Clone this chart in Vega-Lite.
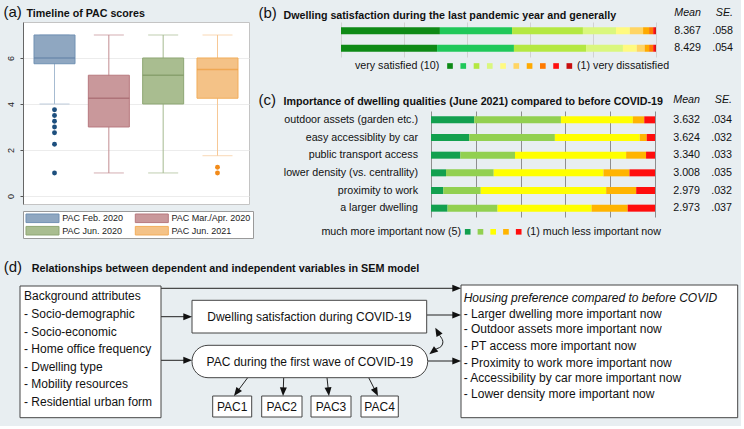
{
  "$schema": "https://vega.github.io/schema/vega-lite/v6.json",
  "background": "#e8eef1",
  "padding": {"left": 2, "top": 3, "right": 0, "bottom": 0},
  "config": {
    "font": "Liberation Sans",
    "view": {"stroke": null},
    "axis": {"labelColor": "#222", "titleColor": "#111"},
    "text": {"color": "#111"}
  },
  "datasets": {
    "pac": [
      {"wave": "PAC Feb. 2020", "lower": 4, "q1": 5.75, "median": 6, "q3": 7, "upper": 7},
      {"wave": "PAC Mar./Apr. 2020", "lower": 1, "q1": 3, "median": 4.25, "q3": 5.25, "upper": 7},
      {"wave": "PAC Jun. 2020", "lower": 1, "q1": 4, "median": 5.25, "q3": 6, "upper": 7},
      {"wave": "PAC Jun. 2021", "lower": 1.75, "q1": 4.25, "median": 5.5, "q3": 6, "upper": 7}
    ],
    "pacOut": [
      {"wave": "PAC Feb. 2020", "value": 3.75},
      {"wave": "PAC Feb. 2020", "value": 3.5},
      {"wave": "PAC Feb. 2020", "value": 3.25},
      {"wave": "PAC Feb. 2020", "value": 3},
      {"wave": "PAC Feb. 2020", "value": 2.75},
      {"wave": "PAC Feb. 2020", "value": 2.25},
      {"wave": "PAC Feb. 2020", "value": 1},
      {"wave": "PAC Jun. 2021", "value": 1.25},
      {"wave": "PAC Jun. 2021", "value": 1}
    ],
    "pacLegend": [
      {"wave": "PAC Feb. 2020", "col": "a", "row": "1"},
      {"wave": "PAC Mar./Apr. 2020", "col": "b", "row": "1"},
      {"wave": "PAC Jun. 2020", "col": "a", "row": "2"},
      {"wave": "PAC Jun. 2021", "col": "b", "row": "2"}
    ],
    "sat": [
      {"item": "last pandemic year", "level": 10, "pct": 31.4},
      {"item": "last pandemic year", "level": 9, "pct": 22.9},
      {"item": "last pandemic year", "level": 8, "pct": 22.5},
      {"item": "last pandemic year", "level": 7, "pct": 10.5},
      {"item": "last pandemic year", "level": 6, "pct": 4.4},
      {"item": "last pandemic year", "level": 5, "pct": 4.2},
      {"item": "last pandemic year", "level": 4, "pct": 1.9},
      {"item": "last pandemic year", "level": 3, "pct": 1.3},
      {"item": "last pandemic year", "level": 2, "pct": 0.6},
      {"item": "last pandemic year", "level": 1, "pct": 0.3},
      {"item": "generally", "level": 10, "pct": 30.5},
      {"item": "generally", "level": 9, "pct": 24.4},
      {"item": "generally", "level": 8, "pct": 22.9},
      {"item": "generally", "level": 7, "pct": 11.7},
      {"item": "generally", "level": 6, "pct": 4.4},
      {"item": "generally", "level": 5, "pct": 2.5},
      {"item": "generally", "level": 4, "pct": 1.4},
      {"item": "generally", "level": 3, "pct": 1.3},
      {"item": "generally", "level": 2, "pct": 0.6},
      {"item": "generally", "level": 1, "pct": 0.3}
    ],
    "satStats": [
      {"item": "last pandemic year", "stat": "Mean", "val": "8.367"},
      {"item": "last pandemic year", "stat": "SE.", "val": ".058"},
      {"item": "generally", "stat": "Mean", "val": "8.429"},
      {"item": "generally", "stat": "SE.", "val": ".054"}
    ],
    "satCapL": [{"level": 10, "t": "very satisfied (10)"}],
    "satCapR": [{"level": 1, "t": "(1) very dissatisfied"}],
    "imp": [
      {"item": "outdoor assets (garden etc.)", "level": 5, "pct": 19.3},
      {"item": "outdoor assets (garden etc.)", "level": 4, "pct": 38.7},
      {"item": "outdoor assets (garden etc.)", "level": 3, "pct": 32.1},
      {"item": "outdoor assets (garden etc.)", "level": 2, "pct": 5.1},
      {"item": "outdoor assets (garden etc.)", "level": 1, "pct": 4.8},
      {"item": "easy accessiblity by car", "level": 5, "pct": 17.1},
      {"item": "easy accessiblity by car", "level": 4, "pct": 38.2},
      {"item": "easy accessiblity by car", "level": 3, "pct": 37.9},
      {"item": "easy accessiblity by car", "level": 2, "pct": 3.1},
      {"item": "easy accessiblity by car", "level": 1, "pct": 3.7},
      {"item": "public transport access", "level": 5, "pct": 13.1},
      {"item": "public transport access", "level": 4, "pct": 24.4},
      {"item": "public transport access", "level": 3, "pct": 49.6},
      {"item": "public transport access", "level": 2, "pct": 8.9},
      {"item": "public transport access", "level": 1, "pct": 4.0},
      {"item": "lower density (vs. centrallity)", "level": 5, "pct": 6.7},
      {"item": "lower density (vs. centrallity)", "level": 4, "pct": 21.3},
      {"item": "lower density (vs. centrallity)", "level": 3, "pct": 49.0},
      {"item": "lower density (vs. centrallity)", "level": 2, "pct": 11.6},
      {"item": "lower density (vs. centrallity)", "level": 1, "pct": 11.4},
      {"item": "proximity to work", "level": 5, "pct": 5.5},
      {"item": "proximity to work", "level": 4, "pct": 16.7},
      {"item": "proximity to work", "level": 3, "pct": 56.0},
      {"item": "proximity to work", "level": 2, "pct": 13.4},
      {"item": "proximity to work", "level": 1, "pct": 8.4},
      {"item": "a larger dwelling", "level": 5, "pct": 7.4},
      {"item": "a larger dwelling", "level": 4, "pct": 22.3},
      {"item": "a larger dwelling", "level": 3, "pct": 42.0},
      {"item": "a larger dwelling", "level": 2, "pct": 16.1},
      {"item": "a larger dwelling", "level": 1, "pct": 12.2}
    ],
    "impStats": [
      {"item": "outdoor assets (garden etc.)", "stat": "Mean", "val": "3.632"},
      {"item": "outdoor assets (garden etc.)", "stat": "SE.", "val": ".034"},
      {"item": "easy accessiblity by car", "stat": "Mean", "val": "3.624"},
      {"item": "easy accessiblity by car", "stat": "SE.", "val": ".032"},
      {"item": "public transport access", "stat": "Mean", "val": "3.340"},
      {"item": "public transport access", "stat": "SE.", "val": ".033"},
      {"item": "lower density (vs. centrallity)", "stat": "Mean", "val": "3.008"},
      {"item": "lower density (vs. centrallity)", "stat": "SE.", "val": ".035"},
      {"item": "proximity to work", "stat": "Mean", "val": "2.979"},
      {"item": "proximity to work", "stat": "SE.", "val": ".032"},
      {"item": "a larger dwelling", "stat": "Mean", "val": "2.973"},
      {"item": "a larger dwelling", "stat": "SE.", "val": ".037"}
    ],
    "impCapL": [{"level": 5, "t": "much more important now (5)"}],
    "impCapR": [{"level": 1, "t": "(1) much less important now"}],
    "dRect": [
      {"x1": -3, "x2": 138, "y1": 30, "y2": 161.7},
      {"x1": 169, "x2": 403.7, "y1": 44.3, "y2": 77},
      {"x1": 189.7, "x2": 228.7, "y1": 140, "y2": 161},
      {"x1": 238.7, "x2": 279, "y1": 140, "y2": 161},
      {"x1": 288, "x2": 328, "y1": 140, "y2": 161},
      {"x1": 338, "x2": 375.3, "y1": 140, "y2": 161},
      {"x1": 438, "x2": 714.7, "y1": 29, "y2": 161.7}
    ],
    "dPill": [
      {"x1": 169, "x2": 404.7, "y1": 89.3, "y2": 121.7}
    ],
    "dLines": [
      {"x1": 138, "y1": 32.3, "x2": 434, "y2": 32.3},
      {"x1": 138, "y1": 60.7, "x2": 165, "y2": 60.7},
      {"x1": 138, "y1": 104.3, "x2": 165, "y2": 104.3},
      {"x1": 403.7, "y1": 59, "x2": 434, "y2": 59},
      {"x1": 404.7, "y1": 105, "x2": 434, "y2": 105},
      {"x1": 224.7, "y1": 121.7, "x2": 213.6, "y2": 136.5},
      {"x1": 260.7, "y1": 121.7, "x2": 260.2, "y2": 135.6},
      {"x1": 304, "y1": 121.7, "x2": 305.5, "y2": 135.7},
      {"x1": 345.7, "y1": 121.7, "x2": 353, "y2": 136.1}
    ],
    "dCurve": [
      {"seq": 1, "x": 416.6, "y": 79.3},
      {"seq": 2, "x": 419.3, "y": 83.5},
      {"seq": 3, "x": 419.8, "y": 87},
      {"seq": 4, "x": 417.8, "y": 90.8},
      {"seq": 5, "x": 413.1, "y": 92.9}
    ],
    "dHeads": [
      {"x": 433.7, "y": 32.3, "ang": 90},
      {"x": 164.7, "y": 60.7, "ang": 90},
      {"x": 164.7, "y": 104.3, "ang": 90},
      {"x": 433.7, "y": 59, "ang": 90},
      {"x": 433.7, "y": 105, "ang": 90},
      {"x": 213.6, "y": 136.5, "ang": 216.9},
      {"x": 260.2, "y": 135.65, "ang": 182.2},
      {"x": 305.5, "y": 135.7, "ang": 173.7},
      {"x": 353, "y": 136.1, "ang": 153},
      {"x": 414.4, "y": 75.5, "ang": -29.4},
      {"x": 409.7, "y": 95.6, "ang": 231.5}
    ],
    "dTextL": [
      {"x": 1, "y": 40, "t": "Background attributes"},
      {"x": 1, "y": 57.7, "t": "- Socio-demographic"},
      {"x": 1, "y": 75.7, "t": "- Socio-economic"},
      {"x": 1, "y": 93.3, "t": "- Home office frequency"},
      {"x": 1, "y": 111, "t": "- Dwelling type"},
      {"x": 1, "y": 128.3, "t": "- Mobility resources"},
      {"x": 1, "y": 145.7, "t": "- Residential urban form"},
      {"x": 440.7, "y": 57.7, "t": "- Larger dwelling more important now"},
      {"x": 440.7, "y": 73.3, "t": "- Outdoor assets more important now"},
      {"x": 440.7, "y": 90, "t": "- PT access more important now"},
      {"x": 440.7, "y": 106.7, "t": "- Proximity to work more important now"},
      {"x": 440.7, "y": 122.3, "t": "- Accessibility by car more important now"},
      {"x": 440.7, "y": 138.3, "t": "- Lower density more important now"}
    ],
    "dTextI": [
      {"x": 440.7, "y": 41.7, "t": "Housing preference compared to before COVID"}
    ],
    "dTextC": [
      {"x": 286.3, "y": 60.7, "t": "Dwelling satisfaction during COVID-19"},
      {"x": 286.8, "y": 105.5, "t": "PAC during the first wave of COVID-19"},
      {"x": 209.2, "y": 150.5, "t": "PAC1"},
      {"x": 258.8, "y": 150.5, "t": "PAC2"},
      {"x": 308, "y": 150.5, "t": "PAC3"},
      {"x": 356.6, "y": 150.5, "t": "PAC4"}
    ],
    "dTitle": [
      {"x": -19.3, "y": 16, "t": "(d)"}
    ],
    "dTitleB": [
      {"x": 8.7, "y": 16, "t": "Relationships between dependent and independent variables in SEM model"}
    ]
  },
  "spacing": 17,
  "resolve": {
    "scale": {"color": "independent", "fill": "independent", "stroke": "independent"},
    "legend": {"color": "independent", "fill": "independent", "stroke": "independent"}
  },
  "vconcat": [
    {
      "spacing": 4,
      "resolve": {
        "scale": {"color": "independent", "fill": "independent", "stroke": "independent"},
        "legend": {"color": "independent", "fill": "independent", "stroke": "independent"}
      },
      "hconcat": [
        {
          "spacing": 5,
          "resolve": {
            "scale": {"color": "independent", "fill": "independent", "stroke": "independent"},
            "legend": {"color": "independent", "fill": "independent", "stroke": "independent"}
          },
          "vconcat": [
            {
              "width": 226,
              "height": 182,
              "view": {"fill": "white", "stroke": "#c4c4c4"},
              "resolve": {"scale": {"color": "independent"}},
              "encoding": {
                "x": {
                  "field": "wave", "type": "nominal", "sort": null, "title": "Timeline of PAC scores",
                  "scale": {"domain": ["PAC Feb. 2020", "PAC Mar./Apr. 2020", "PAC Jun. 2020", "PAC Jun. 2021"], "paddingInner": 0.2, "paddingOuter": 0.18},
                  "axis": {"orient": "top", "labels": false, "ticks": false, "domain": false, "grid": false,
                    "titleFontWeight": "bold", "titleFontSize": 10.7, "titleX": 3, "titleY": -5.7,
                    "titleAlign": "left", "titleBaseline": "alphabetic"}
                }
              },
              "layer": [
                {
                  "data": {"name": "pac"},
                  "mark": {"type": "rule", "strokeWidth": 1},
                  "encoding": {
                    "y": {"field": "lower", "type": "quantitative", "title": "(a)",
                      "scale": {"domain": [-0.35, 7.565], "nice": false, "zero": false},
                      "axis": {"values": [0, 2, 4, 6], "grid": true, "gridColor": "#ececec",
                        "labelAngle": -90, "labelAlign": "center", "labelBaseline": "bottom",
                        "labelFontSize": 9, "labelPadding": 5, "tickSize": 3, "tickColor": "#555",
                        "domainColor": "#666",
                        "titleAngle": 0, "titleX": -20, "titleY": -5.8, "titleAlign": "left",
                        "titleBaseline": "alphabetic", "titleFontSize": 15, "titleFontWeight": "normal"}},
                    "y2": {"field": "upper"},
                    "color": {"field": "wave", "type": "nominal", "legend": null,
                      "scale": {"domain": ["PAC Feb. 2020", "PAC Mar./Apr. 2020", "PAC Jun. 2020", "PAC Jun. 2021"],
                        "range": ["#a6bbd1", "#c28c91", "#a5b98f", "#f7c895"]}}
                  }
                },
                {
                  "data": {"name": "pac"},
                  "mark": {"type": "tick", "size": 30, "thickness": 1},
                  "encoding": {
                    "y": {"field": "lower", "type": "quantitative", "title": "(a)"},
                    "color": {"field": "wave", "type": "nominal", "legend": null,
                      "scale": {"domain": ["PAC Feb. 2020", "PAC Mar./Apr. 2020", "PAC Jun. 2020", "PAC Jun. 2021"],
                        "range": ["#a6bbd1", "#c28c91", "#a5b98f", "#f7c895"]}}
                  }
                },
                {
                  "data": {"name": "pac"},
                  "mark": {"type": "tick", "size": 30, "thickness": 1},
                  "encoding": {
                    "y": {"field": "upper", "type": "quantitative", "title": "(a)"},
                    "color": {"field": "wave", "type": "nominal", "legend": null,
                      "scale": {"domain": ["PAC Feb. 2020", "PAC Mar./Apr. 2020", "PAC Jun. 2020", "PAC Jun. 2021"],
                        "range": ["#a6bbd1", "#c28c91", "#a5b98f", "#f7c895"]}}
                  }
                },
                {
                  "data": {"name": "pac"},
                  "mark": {"type": "bar", "size": 41, "strokeWidth": 1},
                  "encoding": {
                    "y": {"field": "q1", "type": "quantitative", "title": "(a)"},
                    "y2": {"field": "q3"},
                    "fill": {"field": "wave", "type": "nominal", "legend": null,
                      "scale": {"domain": ["PAC Feb. 2020", "PAC Mar./Apr. 2020", "PAC Jun. 2020", "PAC Jun. 2021"],
                        "range": ["#8fa7c1", "#c9989b", "#a9bd90", "#f4c287"]}},
                    "stroke": {"field": "wave", "type": "nominal", "legend": null,
                      "scale": {"domain": ["PAC Feb. 2020", "PAC Mar./Apr. 2020", "PAC Jun. 2020", "PAC Jun. 2021"],
                        "range": ["#7191b3", "#b7797f", "#8ea673", "#f2ad5b"]}}
                  }
                },
                {
                  "data": {"name": "pac"},
                  "mark": {"type": "tick", "size": 41, "thickness": 1.5},
                  "encoding": {
                    "y": {"field": "median", "type": "quantitative", "title": "(a)"},
                    "color": {"field": "wave", "type": "nominal", "legend": null,
                      "scale": {"domain": ["PAC Feb. 2020", "PAC Mar./Apr. 2020", "PAC Jun. 2020", "PAC Jun. 2021"],
                        "range": ["#5f80a6", "#a3646b", "#7c9660", "#ec9c3f"]}}
                  }
                },
                {
                  "data": {"name": "pacOut"},
                  "mark": {"type": "point", "filled": true, "size": 24, "opacity": 1},
                  "encoding": {
                    "y": {"field": "value", "type": "quantitative", "title": "(a)"},
                    "color": {"field": "wave", "type": "nominal", "legend": null,
                      "scale": {"domain": ["PAC Feb. 2020", "PAC Jun. 2021"], "range": ["#1d4f7e", "#f28b1a"]}}
                  }
                }
              ]
            },
            {
              "width": 230,
              "height": 27,
              "view": {"fill": "white", "stroke": "#9a9a9a"},
              "data": {"name": "pacLegend"},
              "encoding": {
                "x": {"field": "col", "type": "nominal", "bandPosition": 0, "axis": null,
                  "scale": {"type": "band", "domain": ["a", "b"], "paddingInner": 0, "paddingOuter": 0.052, "align": 0.263}},
                "y": {"field": "row", "type": "nominal", "axis": null,
                  "scale": {"type": "band", "domain": ["1", "2"], "paddingInner": 0, "paddingOuter": 0.089}}
              },
              "layer": [
                {
                  "mark": {"type": "point", "shape": "M0,-0.26H2V0.26H0Z", "size": 1089, "filled": true, "strokeWidth": 1, "opacity": 1},
                  "encoding": {
                    "fill": {"field": "wave", "type": "nominal", "legend": null,
                      "scale": {"domain": ["PAC Feb. 2020", "PAC Mar./Apr. 2020", "PAC Jun. 2020", "PAC Jun. 2021"],
                        "range": ["#8fa7c1", "#c9989b", "#a9bd90", "#f4c287"]}},
                    "stroke": {"field": "wave", "type": "nominal", "legend": null,
                      "scale": {"domain": ["PAC Feb. 2020", "PAC Mar./Apr. 2020", "PAC Jun. 2020", "PAC Jun. 2021"],
                        "range": ["#7191b3", "#b7797f", "#8ea673", "#f2ad5b"]}}
                  }
                },
                {
                  "mark": {"type": "text", "align": "left", "baseline": "middle", "fontSize": 9, "dx": 36.2, "color": "#222"},
                  "encoding": {"text": {"field": "wave"}}
                }
              ]
            }
          ]
        },
        {
          "spacing": 21,
          "resolve": {
            "scale": {"color": "independent", "fill": "independent", "stroke": "independent"},
            "legend": {"color": "independent", "fill": "independent", "stroke": "independent"}
          },
          "vconcat": [
            {
              "spacing": 3,
              "resolve": {"scale": {"color": "independent"}, "legend": {"color": "independent"}},
              "vconcat": [
                {
                  "spacing": 13,
                  "bounds": "flush",
                  "resolve": {"scale": {"color": "independent"}, "legend": {"color": "independent"}},
                  "hconcat": [
                    {
                      "width": 315,
                      "height": 35,
                      "data": {"name": "sat"},
                      "mark": {"type": "bar", "size": 7},
                      "encoding": {
                        "x": {"field": "pct", "type": "quantitative", "stack": "zero",
                          "title": "Dwelling satisfaction during the last pandemic year and generally",
                          "scale": {"domain": [0, 100], "nice": false},
                          "axis": {"orient": "top", "values": [0, 20, 40, 60, 80, 100], "grid": true, "gridColor": "#d2d2d2",
                            "labels": false, "ticks": false, "domain": false,
                            "titleFontWeight": "bold", "titleFontSize": 10.7, "titleX": -58, "titleY": -4,
                            "titleAlign": "left", "titleBaseline": "alphabetic"}},
                        "y": {"field": "item", "type": "nominal", "sort": ["last pandemic year", "generally"], "title": "(b)",
                          "axis": {"labels": false, "ticks": false, "domain": false, "grid": false,
                            "titleAngle": 0, "titleX": -83, "titleY": -4.5, "titleAlign": "left",
                            "titleBaseline": "alphabetic", "titleFontSize": 15, "titleFontWeight": "normal"}},
                        "color": {"field": "level", "type": "ordinal", "legend": null,
                          "scale": {"domain": [10, 9, 8, 7, 6, 5, 4, 3, 2, 1],
                            "range": ["#0e8a16", "#20c85a", "#b4e842", "#daf77e", "#fffa80", "#ffd564", "#ffaa00", "#ff7a00", "#ff1010", "#c80e0e"]}},
                        "order": {"field": "level", "type": "quantitative", "sort": "descending"}
                      }
                    },
                    {
                      "width": 64,
                      "height": 35,
                      "data": {"name": "satStats"},
                      "mark": {"type": "text", "align": "right", "baseline": "middle", "fontSize": 10.7},
                      "encoding": {
                        "x": {"field": "stat", "type": "nominal", "sort": ["Mean", "SE."], "bandPosition": 1, "title": null,
                          "scale": {"type": "band", "paddingInner": 0, "paddingOuter": 0},
                          "axis": {"orient": "top", "labelAngle": 0, "labelAlign": "right", "labelOffset": 16,
                            "ticks": false, "domain": false, "labelFontStyle": "italic", "labelPadding": 6.7,
                            "labelBaseline": "alphabetic", "labelFontSize": 10.7, "labelColor": "#111"}},
                        "y": {"field": "item", "type": "nominal", "sort": ["last pandemic year", "generally"], "axis": null},
                        "text": {"field": "val"}
                      }
                    }
                  ]
                },
                {
                  "width": 315,
                  "height": 10,
                  "layer": [
                    {
                      "data": {"name": "sat"},
                      "transform": [{"filter": "datum.item == 'generally'"}],
                      "mark": {"type": "point", "shape": "square", "filled": true, "size": 32, "opacity": 1},
                      "encoding": {
                        "x": {"field": "level", "type": "quantitative", "axis": null,
                          "scale": {"domain": [18.22, -5.535], "nice": false, "zero": false}},
                        "color": {"field": "level", "type": "ordinal", "legend": null,
                          "scale": {"domain": [10, 9, 8, 7, 6, 5, 4, 3, 2, 1],
                            "range": ["#0e8a16", "#20c85a", "#b4e842", "#daf77e", "#fffa80", "#ffd564", "#ffaa00", "#ff7a00", "#ff1010", "#c80e0e"]}}
                      }
                    },
                    {
                      "data": {"name": "satCapL"},
                      "mark": {"type": "text", "align": "right", "baseline": "middle", "fontSize": 10.7, "dx": -10.7},
                      "encoding": {
                        "x": {"field": "level", "type": "quantitative"},
                        "text": {"field": "t"}
                      }
                    },
                    {
                      "data": {"name": "satCapR"},
                      "mark": {"type": "text", "align": "left", "baseline": "middle", "fontSize": 10.7, "dx": 7.7},
                      "encoding": {
                        "x": {"field": "level", "type": "quantitative"},
                        "text": {"field": "t"}
                      }
                    }
                  ]
                }
              ]
            },
            {
              "spacing": 8.8,
              "resolve": {"scale": {"color": "independent"}, "legend": {"color": "independent"}},
              "vconcat": [
                {
                  "spacing": 13,
                  "bounds": "flush",
                  "resolve": {"scale": {"color": "independent"}, "legend": {"color": "independent"}},
                  "hconcat": [
                    {
                      "width": 77,
                      "height": 106,
                      "data": {"name": "impStats"},
                      "transform": [{"filter": "datum.stat == 'Mean'"}],
                      "mark": {"type": "text", "align": "right", "baseline": "middle", "fontSize": 10.7},
                      "encoding": {
                        "x": {"datum": 1, "type": "quantitative", "scale": {"domain": [0, 1]}, "axis": null},
                        "y": {"field": "item", "type": "nominal", "axis": null,
                          "sort": ["outdoor assets (garden etc.)", "easy accessiblity by car", "public transport access", "lower density (vs. centrallity)", "proximity to work", "a larger dwelling"]},
                        "text": {"field": "item"}
                      }
                    },
                    {
                      "width": 224,
                      "height": 106,
                      "data": {"name": "imp"},
                      "mark": {"type": "bar", "size": 7},
                      "encoding": {
                        "x": {"field": "pct", "type": "quantitative", "stack": "zero",
                          "title": "Importance of dwelling qualities (June 2021) compared to before COVID-19",
                          "scale": {"domain": [0, 100], "nice": false},
                          "axis": {"orient": "top", "values": [0, 20, 40, 60, 80, 100], "grid": true, "gridColor": "#8e8e8e",
                            "labels": false, "ticks": false, "domain": false,
                            "titleFontWeight": "bold", "titleFontSize": 10.7, "titleX": -148, "titleY": -6.8,
                            "titleAlign": "left", "titleBaseline": "alphabetic"}},
                        "y": {"field": "item", "type": "nominal", "title": "(c)",
                          "sort": ["outdoor assets (garden etc.)", "easy accessiblity by car", "public transport access", "lower density (vs. centrallity)", "proximity to work", "a larger dwelling"],
                          "axis": {"labels": false, "ticks": false, "domain": false, "grid": false,
                            "titleAngle": 0, "titleX": -173, "titleY": -6.5, "titleAlign": "left",
                            "titleBaseline": "alphabetic", "titleFontSize": 15, "titleFontWeight": "normal"}},
                        "color": {"field": "level", "type": "ordinal", "legend": null,
                          "scale": {"domain": [5, 4, 3, 2, 1],
                            "range": ["#12a04f", "#92d050", "#ffff00", "#ffb400", "#ff0d0d"]}},
                        "order": {"field": "level", "type": "quantitative", "sort": "descending"}
                      }
                    },
                    {
                      "width": 64,
                      "height": 106,
                      "data": {"name": "impStats"},
                      "mark": {"type": "text", "align": "right", "baseline": "middle", "fontSize": 10.7},
                      "encoding": {
                        "x": {"field": "stat", "type": "nominal", "sort": ["Mean", "SE."], "bandPosition": 1, "title": null,
                          "scale": {"type": "band", "paddingInner": 0, "paddingOuter": 0},
                          "axis": {"orient": "top", "labelAngle": 0, "labelAlign": "right", "labelOffset": 16,
                            "ticks": false, "domain": false, "labelFontStyle": "italic", "labelPadding": 8.5,
                            "labelBaseline": "alphabetic", "labelFontSize": 10.7, "labelColor": "#111"}},
                        "y": {"field": "item", "type": "nominal", "axis": null,
                          "sort": ["outdoor assets (garden etc.)", "easy accessiblity by car", "public transport access", "lower density (vs. centrallity)", "proximity to work", "a larger dwelling"]},
                        "text": {"field": "val"}
                      }
                    }
                  ]
                },
                {
                  "width": 315,
                  "height": 10,
                  "layer": [
                    {
                      "data": {"name": "imp"},
                      "transform": [{"filter": "datum.item == 'a larger dwelling'"}],
                      "mark": {"type": "point", "shape": "square", "filled": true, "size": 32, "opacity": 1},
                      "encoding": {
                        "x": {"field": "level", "type": "quantitative", "axis": null,
                          "scale": {"domain": [14.937, -9.769], "nice": false, "zero": false}},
                        "color": {"field": "level", "type": "ordinal", "legend": null,
                          "scale": {"domain": [5, 4, 3, 2, 1],
                            "range": ["#12a04f", "#92d050", "#ffff00", "#ffb400", "#ff0d0d"]}}
                      }
                    },
                    {
                      "data": {"name": "impCapL"},
                      "mark": {"type": "text", "align": "right", "baseline": "middle", "fontSize": 10.7, "dx": -6.7},
                      "encoding": {
                        "x": {"field": "level", "type": "quantitative"},
                        "text": {"field": "t"}
                      }
                    },
                    {
                      "data": {"name": "impCapR"},
                      "mark": {"type": "text", "align": "left", "baseline": "middle", "fontSize": 10.7, "dx": 8},
                      "encoding": {
                        "x": {"field": "level", "type": "quantitative"},
                        "text": {"field": "t"}
                      }
                    }
                  ]
                }
              ]
            }
          ]
        }
      ]
    },
    {
      "width": 718,
      "height": 170,
      "view": {"stroke": null},
      "layer": [
        {
          "data": {"name": "dLines"},
          "mark": {"type": "rule", "color": "#222", "strokeWidth": 1},
          "encoding": {
            "x": {"field": "x1", "type": "quantitative", "scale": {"domain": [0, 718], "nice": false, "zero": false}, "axis": null},
            "x2": {"field": "x2"},
            "y": {"field": "y1", "type": "quantitative", "scale": {"domain": [0, 170], "nice": false, "zero": false, "reverse": true}, "axis": null},
            "y2": {"field": "y2"}
          }
        },
        {
          "data": {"name": "dCurve"},
          "mark": {"type": "line", "color": "#222", "strokeWidth": 1, "interpolate": "cardinal"},
          "encoding": {
            "x": {"field": "x", "type": "quantitative", "scale": {"domain": [0, 718], "nice": false, "zero": false}, "axis": null},
            "y": {"field": "y", "type": "quantitative", "scale": {"domain": [0, 170], "nice": false, "zero": false, "reverse": true}, "axis": null},
            "order": {"field": "seq", "type": "quantitative"}
          }
        },
        {
          "data": {"name": "dRect"},
          "mark": {"type": "rect", "fill": "white", "stroke": "#444", "strokeWidth": 1},
          "encoding": {
            "x": {"field": "x1", "type": "quantitative", "scale": {"domain": [0, 718], "nice": false, "zero": false}, "axis": null},
            "x2": {"field": "x2"},
            "y": {"field": "y1", "type": "quantitative", "scale": {"domain": [0, 170], "nice": false, "zero": false, "reverse": true}, "axis": null},
            "y2": {"field": "y2"}
          }
        },
        {
          "data": {"name": "dPill"},
          "mark": {"type": "rect", "fill": "white", "stroke": "#444", "strokeWidth": 1, "cornerRadius": 16},
          "encoding": {
            "x": {"field": "x1", "type": "quantitative", "scale": {"domain": [0, 718], "nice": false, "zero": false}, "axis": null},
            "x2": {"field": "x2"},
            "y": {"field": "y1", "type": "quantitative", "scale": {"domain": [0, 170], "nice": false, "zero": false, "reverse": true}, "axis": null},
            "y2": {"field": "y2"}
          }
        },
        {
          "data": {"name": "dHeads"},
          "mark": {"type": "point", "shape": "M0,-1L0.8,1L-0.8,1Z", "filled": true, "color": "#111", "size": 76, "opacity": 1},
          "encoding": {
            "x": {"field": "x", "type": "quantitative", "scale": {"domain": [0, 718], "nice": false, "zero": false}, "axis": null},
            "y": {"field": "y", "type": "quantitative", "scale": {"domain": [0, 170], "nice": false, "zero": false, "reverse": true}, "axis": null},
            "angle": {"field": "ang", "type": "quantitative", "scale": null}
          }
        },
        {
          "data": {"name": "dTextL"},
          "mark": {"type": "text", "align": "left", "baseline": "middle", "fontSize": 12, "color": "#111"},
          "encoding": {
            "x": {"field": "x", "type": "quantitative", "scale": {"domain": [0, 718], "nice": false, "zero": false}, "axis": null},
            "y": {"field": "y", "type": "quantitative", "scale": {"domain": [0, 170], "nice": false, "zero": false, "reverse": true}, "axis": null},
            "text": {"field": "t"}
          }
        },
        {
          "data": {"name": "dTextI"},
          "mark": {"type": "text", "align": "left", "baseline": "middle", "fontSize": 12, "fontStyle": "italic", "color": "#111"},
          "encoding": {
            "x": {"field": "x", "type": "quantitative", "scale": {"domain": [0, 718], "nice": false, "zero": false}, "axis": null},
            "y": {"field": "y", "type": "quantitative", "scale": {"domain": [0, 170], "nice": false, "zero": false, "reverse": true}, "axis": null},
            "text": {"field": "t"}
          }
        },
        {
          "data": {"name": "dTextC"},
          "mark": {"type": "text", "align": "center", "baseline": "middle", "fontSize": 12, "color": "#111"},
          "encoding": {
            "x": {"field": "x", "type": "quantitative", "scale": {"domain": [0, 718], "nice": false, "zero": false}, "axis": null},
            "y": {"field": "y", "type": "quantitative", "scale": {"domain": [0, 170], "nice": false, "zero": false, "reverse": true}, "axis": null},
            "text": {"field": "t"}
          }
        },
        {
          "data": {"name": "dTitle"},
          "mark": {"type": "text", "align": "left", "baseline": "alphabetic", "fontSize": 15, "color": "#111"},
          "encoding": {
            "x": {"field": "x", "type": "quantitative", "scale": {"domain": [0, 718], "nice": false, "zero": false}, "axis": null},
            "y": {"field": "y", "type": "quantitative", "scale": {"domain": [0, 170], "nice": false, "zero": false, "reverse": true}, "axis": null},
            "text": {"field": "t"}
          }
        },
        {
          "data": {"name": "dTitleB"},
          "mark": {"type": "text", "align": "left", "baseline": "alphabetic", "fontSize": 10.8, "fontWeight": "bold", "color": "#111"},
          "encoding": {
            "x": {"field": "x", "type": "quantitative", "scale": {"domain": [0, 718], "nice": false, "zero": false}, "axis": null},
            "y": {"field": "y", "type": "quantitative", "scale": {"domain": [0, 170], "nice": false, "zero": false, "reverse": true}, "axis": null},
            "text": {"field": "t"}
          }
        }
      ]
    }
  ]
}
